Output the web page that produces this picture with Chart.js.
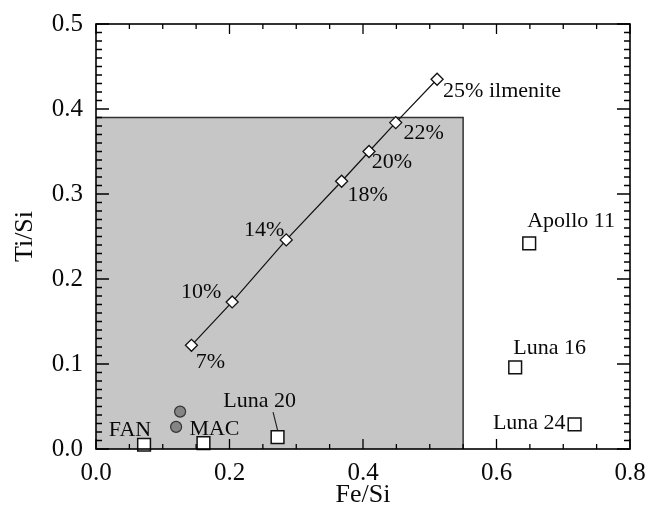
<!DOCTYPE html>
<html>
<head>
<meta charset="utf-8">
<script src="https://cdn.jsdelivr.net/npm/chart.js@4.4.0/dist/chart.umd.min.js"></script>
<style>
  html, body { margin: 0; padding: 0; background: #fff; }
</style>
</head>
<body>
<canvas id="ilmChart" width="658" height="511"></canvas>
<script>
// ilmenite mixing line
var ilmLabels = ["7%", "10%", "14%", "18%", "20%", "22%", "25% ilmenite"];
var ilmFe = [0.143, 0.204, 0.285, 0.368, 0.409, 0.449, 0.511];
var ilmTi = [0.122, 0.173, 0.246, 0.315, 0.350, 0.384, 0.435];

// returned samples (squares)
var sampleLabels = ["FAN", "MAC", "Luna 20", "Luna 16", "Apollo 11", "Luna 24"];
var sampleFe = [0.072, 0.161, 0.272, 0.628, 0.649, 0.717];
var sampleTi = [0.005, 0.007, 0.014, 0.096, 0.242, 0.029];

// grey circles
var circleFe = [0.126, 0.120];
var circleTi = [0.044, 0.026];

// shaded region corners
var boxFe = [0, 0.55, 0.55];
var boxTi = [0.39, 0.39, 0];

var xTicks = [0, 0.2, 0.4, 0.6, 0.8];
var yTicks = [0, 0.1, 0.2, 0.3, 0.4, 0.5];

// label placement relative to the marker (px), and text alignment
var ilmLabelPos = [[19, 17, "center"], [-31, -10, "center"], [-22, -10, "center"], [26, 14, "center"],
  [23, 11, "center"], [28, 11, "center"], [6, 12, "left"]];
var sampleLabelPos = [[-14, -15, "center"], [11, -14, "center"], [-18, -36, "center"],
  [-2, -19, "left"], [-2, -22, "left"], [-9, -1, "right"]];

function pts(xs, ys) {
  return xs.map(function(x, i) { return { x: x, y: ys[i] }; });
}

var serif = "'Liberation Serif', 'DejaVu Serif', serif";
var ink = "#0a0a0a";

var framePlugin = {
  id: "frame",
  afterDatasetsDraw: function(chart) {
    var ctx = chart.ctx;
    var a = chart.chartArea;
    var xs = chart.scales.x, ys = chart.scales.y;
    ctx.save();
    ctx.strokeStyle = "#000";
    ctx.lineWidth = 1.6;
    ctx.strokeRect(a.left, a.top, a.right - a.left, a.bottom - a.top);
    ctx.lineWidth = 1.3;
    ctx.beginPath();
    var i, p, len;
    for (i = 0; i <= 16; i++) {
      p = xs.getPixelForValue(i * 0.05);
      len = (i % 4 === 0) ? 10 : 5;
      ctx.moveTo(p, a.bottom); ctx.lineTo(p, a.bottom - len);
      ctx.moveTo(p, a.top); ctx.lineTo(p, a.top + len);
    }
    for (i = 0; i <= 50; i++) {
      p = ys.getPixelForValue(i * 0.01);
      len = (i % 10 === 0) ? 13 : 6;
      ctx.moveTo(a.left, p); ctx.lineTo(a.left + len, p);
      ctx.moveTo(a.right, p); ctx.lineTo(a.right - len, p);
    }
    ctx.stroke();

    // annotation labels
    ctx.fillStyle = ink;
    ctx.font = "22px " + serif;
    ctx.textBaseline = "middle";
    ilmLabels.forEach(function(t, k) {
      var o = ilmLabelPos[k];
      ctx.textAlign = o[2];
      ctx.fillText(t, xs.getPixelForValue(ilmFe[k]) + o[0], ys.getPixelForValue(ilmTi[k]) + o[1]);
    });
    sampleLabels.forEach(function(t, k) {
      var o = sampleLabelPos[k];
      ctx.textAlign = o[2];
      ctx.fillText(t, xs.getPixelForValue(sampleFe[k]) + o[0], ys.getPixelForValue(sampleTi[k]) + o[1]);
    });
    // leader line for Luna 20
    var lx = xs.getPixelForValue(sampleFe[2]), ly = ys.getPixelForValue(sampleTi[2]);
    ctx.strokeStyle = "#222";
    ctx.lineWidth = 1.2;
    ctx.beginPath();
    ctx.moveTo(lx - 4.5, ly - 25);
    ctx.lineTo(lx, ly - 7);
    ctx.stroke();
    ctx.restore();
  }
};

var chart = new Chart(document.getElementById("ilmChart").getContext("2d"), {
  type: "scatter",
  data: {
    datasets: [
      {
        label: "ilmenite",
        data: pts(ilmFe, ilmTi),
        showLine: true,
        borderColor: "#111",
        borderWidth: 1.2,
        pointStyle: "rectRot",
        pointRadius: 6,
        pointBackgroundColor: "#fff",
        pointBorderColor: "#111",
        pointBorderWidth: 1.3,
        order: 1
      },
      {
        label: "samples",
        data: pts(sampleFe, sampleTi),
        pointStyle: "rect",
        pointRadius: 9,
        pointBackgroundColor: "#fff",
        pointBorderColor: "#111",
        pointBorderWidth: 1.5,
        clip: false,
        order: 2
      },
      {
        label: "circles",
        data: pts(circleFe, circleTi),
        pointStyle: "circle",
        pointRadius: 5.5,
        pointBackgroundColor: "#858585",
        pointBorderColor: "#333",
        pointBorderWidth: 1.2,
        order: 3
      },
      {
        label: "region",
        data: pts(boxFe, boxTi),
        showLine: true,
        fill: "origin",
        backgroundColor: "#c6c6c6",
        borderColor: "#333",
        borderWidth: 1.5,
        pointRadius: 0,
        order: 10
      }
    ]
  },
  options: {
    responsive: false,
    animation: false,
    layout: { padding: { top: 24, right: 28, left: 0, bottom: 0 } },
    plugins: { legend: { display: false }, tooltip: { enabled: false } },
    scales: {
      x: {
        type: "linear",
        min: 0, max: 0.8,
        afterBuildTicks: function(s) { s.ticks = xTicks.map(function(v) { return { value: v }; }); },
        afterFit: function(s) { s.height = 62; s.paddingLeft = 0; s.paddingRight = 0; },
        grid: { display: false, drawTicks: false },
        border: { display: false },
        ticks: {
          padding: 9,
          color: ink,
          font: { family: serif, size: 25 },
          maxRotation: 0,
          callback: function(v) { return v.toFixed(1); }
        },
        title: {
          display: true,
          text: "Fe/Si",
          color: ink,
          font: { family: serif, size: 26 },
          padding: { top: 0, bottom: 0 }
        }
      },
      y: {
        type: "linear",
        min: 0, max: 0.5,
        afterBuildTicks: function(s) { s.ticks = yTicks.map(function(v) { return { value: v }; }); },
        afterFit: function(s) { s.width = 96; s.paddingTop = 0; s.paddingBottom = 0; },
        grid: { display: false, drawTicks: false },
        border: { display: false },
        ticks: {
          padding: 13,
          color: ink,
          font: { family: serif, size: 25 },
          callback: function(v) { return v.toFixed(1); }
        },
        title: {
          display: true,
          text: "Ti/Si",
          color: ink,
          font: { family: serif, size: 26 },
          padding: { top: 10, bottom: 0 }
        }
      }
    }
  },
  plugins: [framePlugin]
});
</script>
</body>
</html>
